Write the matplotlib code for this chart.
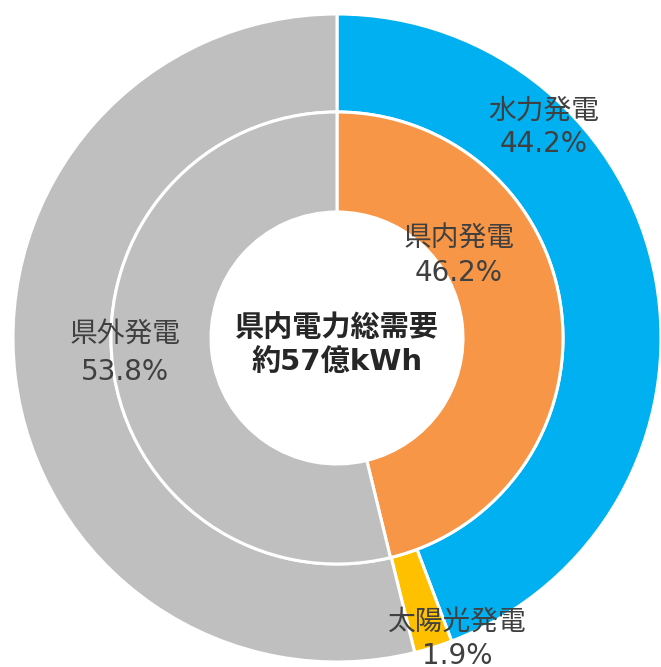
import matplotlib
matplotlib.use("Agg")
import matplotlib.pyplot as plt

plt.rcParams["font.family"] = ["Noto Sans CJK JP", "DejaVu Sans"]
latin_first = ["DejaVu Sans", "Noto Sans CJK JP"]

# Outer ring: breakdown of in-prefecture generation, plus out-of-prefecture supply
outer_names = ["水力発電", "太陽光発電", "県外発電"]
outer_values = [44.2, 1.9, 53.8]
outer_colors = ["#00B0F0", "#FFC000", "#BFBFBF"]

# Inner ring: in-prefecture vs out-of-prefecture generation
inner_names = ["県内発電", "県外発電"]
inner_values = [46.2, 53.8]
inner_colors = ["#F79646", "#BFBFBF"]

center_lines = ["県内電力総需要", "約57億kWh"]

W, H = 661, 667
fig = plt.figure(figsize=(W / 100, H / 100), dpi=100)
ax = fig.add_axes([0, 0, 1, 1])

cx, cy = 337, H - 338
r_outer, r_mid, r_hole = 324, 226, 126
edge = dict(edgecolor="white", linewidth=2.2)

ax.pie(outer_values, colors=outer_colors, radius=r_outer, center=(cx, cy),
       startangle=90, counterclock=False,
       wedgeprops=dict(width=r_outer - r_mid, **edge))
ax.pie(inner_values, colors=inner_colors, radius=r_mid, center=(cx, cy),
       startangle=90, counterclock=False,
       wedgeprops=dict(width=r_mid - r_hole, **edge))

ax.set_xlim(0, W)
ax.set_ylim(0, H)
ax.set_aspect("equal", adjustable="box")
ax.axis("off")

txt = "#404040"
fs = 20


def label(x, y1, y2, name, value):
    ax.text(x, H - y1, name, ha="center", va="center", fontsize=fs, color=txt)
    ax.text(x, H - y2, f"{value:.1f}%", ha="center", va="center", fontsize=fs,
            color=txt, family=latin_first)


label(544, 111, 144, outer_names[0], outer_values[0])
label(457, 622, 656, outer_names[1], outer_values[1])
label(459, 239, 273, inner_names[0], inner_values[0])
label(125, 334, 372, inner_names[1], inner_values[1])

ax.text(cx, H - 327, center_lines[0], ha="center", va="center",
        fontsize=21, fontweight="bold", color="#262626")
ax.text(cx, H - 362, center_lines[1], ha="center", va="center",
        fontsize=21, fontweight="bold", color="#262626", family=latin_first)

fig.savefig("out.png", dpi=100, facecolor="white")
